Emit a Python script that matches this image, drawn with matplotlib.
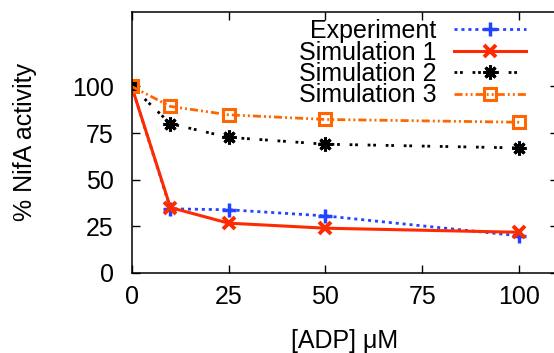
import matplotlib
matplotlib.use("Agg")
import matplotlib.pyplot as plt

plt.rcParams['font.family'] = ['Liberation Sans', 'DejaVu Sans']

# datos
adp = [0, 10, 25, 50, 100]
experimento = [100, 34.3, 33.8, 30.5, 19.8]
sim1 = [100, 35.0, 26.6, 23.9, 21.7]
sim2 = [100, 80.0, 72.7, 69.0, 67.0]
sim3 = [100, 89.3, 84.8, 82.3, 80.8]

etiquetas = ["Experiment", "Simulation 1", "Simulation 2", "Simulation 3"]
xticks = [0, 25, 50, 75, 100]
yticks = [0, 25, 50, 75, 100]

fig = plt.figure(figsize=(5.54, 3.53), dpi=100)
ax = fig.add_axes([0.2377, 0.2275, 0.7695, 0.7385])

ax.plot(adp, experimento, color="#2244ff", lw=2, dashes=(1.1, 1.4),
        marker="+", ms=10, mew=2.5, label=etiquetas[0])
ax.plot(adp, sim1, color="#ff2a00", lw=2.2, ls="-",
        marker="x", ms=8, mew=2.8, label=etiquetas[1])
ax.plot(adp, sim2, color="black", lw=2, dashes=(1, 1, 1, 3.5),
        marker=(8, 2, 0), ms=10, mew=2.2, label=etiquetas[2])
ax.plot(adp, sim3, color="#ff6600", lw=2, dashes=(2.9, 1.1, 0.7, 1.1, 0.7, 1.1),
        marker="s", ms=9, mew=2.2, mfc="none", label=etiquetas[3])

ax.set_xlim(0, 110)
ax.set_ylim(0, 140)
ax.set_xticks(xticks)
ax.set_yticks(yticks)
ax.tick_params(direction="in", length=6, width=1, labelsize=18,
               top=True, right=True)
ax.tick_params(axis="x", pad=9)
ax.tick_params(axis="y", pad=13)
for s in ax.spines.values():
    s.set_linewidth(1.1)

ax.set_xlabel("[ADP] \u03bcM", fontsize=18, labelpad=14)
ax.set_ylabel("% NifA activity", fontsize=18, labelpad=25)

# markerfirst=False deja el texto a la izquierda, alineado a la derecha
leg = ax.legend(loc="upper right", bbox_to_anchor=(0.9495, 1 - 19 / 353),
                bbox_transform=fig.transFigure, frameon=False, fontsize=18,
                markerfirst=False, handlelength=2.9, handletextpad=0.68,
                labelspacing=-0.1, borderpad=0, borderaxespad=0)

fig.savefig("out.png", dpi=100)
